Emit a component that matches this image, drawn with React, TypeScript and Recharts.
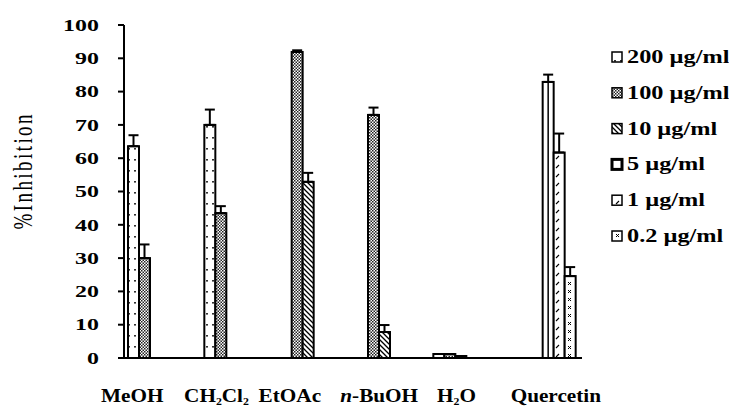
import { BarChart, Bar, XAxis, YAxis, ErrorBar } from "recharts";

const CATEGORIES = ["MeOH", "CH2Cl2", "EtOAc", "n-BuOH", "H2O", "Quercetin"];
const SERIES_NAMES = ["200 µg/ml", "100 µg/ml", "10 µg/ml", "5 µg/ml", "1 µg/ml", "0.2 µg/ml"];
const Y_TICKS = [0, 10, 20, 30, 40, 50, 60, 70, 80, 90, 100];

// % inhibition per concentration (null = not tested)
const V200 = [63.6, 70.0, null, null, 1.2, null];
const V100 = [30.0, 43.5, 91.9, 73.0, 1.2, null];
const V10 = [null, null, 52.9, 7.8, 0.6, null];
const V5 = [null, null, null, null, null, 82.9];
const V1 = [null, null, null, null, null, 61.7];
const V02 = [null, null, null, null, null, 24.6];

// upper error (SD)
const E200 = [3.3, 4.6, null, null, null, null];
const E100 = [4.1, 2.1, 0.5, 2.2, null, null];
const E10 = [null, null, 2.7, 2.1, null, null];
const E5 = [null, null, null, null, null, 2.2];
const E1 = [null, null, null, null, null, 5.7];
const E02 = [null, null, null, null, null, 2.7];

const VALUES = [V200, V100, V10, V5, V1, V02];
const ERRORS = [E200, E100, E10, E5, E1, E02];
const KEYS = ["s200", "s100", "s10", "s5", "s1", "s02"];

const data = CATEGORIES.map((name, i) => {
  const row: any = { name };
  KEYS.forEach((k, s) => {
    row[k] = VALUES[s][i];
    const e = ERRORS[s][i];
    row[k + "e"] = e == null ? undefined : [0, e];
  });
  return row;
});

const FONT = "'Liberation Serif', 'Times New Roman', serif";
const LABEL_NUDGE = [-30, -22, -25, -12, -11, 12];

const makeShape = (key: string) => (props: any) => {
  const { x, y, width, height } = props;
  if (!height || height <= 0) return null;
  return (
    <g>
      <rect x={x} y={y} width={width} height={height} fill={`url(#p${key})`} stroke="#000" strokeWidth={2} />
      {key === "s5" && (
        <line x1={x + width / 2} x2={x + width / 2} y1={y} y2={y + height} stroke="#000" strokeWidth={1.5} />
      )}
    </g>
  );
};

const renderLabel = (label: string) => {
  if (label.startsWith("n-")) {
    return [
      <tspan key="n" fontStyle="italic">n</tspan>,
      <tspan key="r">{label.slice(1)}</tspan>,
    ];
  }
  const parts = label.split(/(\d)/).filter((p) => p !== "");
  return parts.map((p, i) =>
    /\d/.test(p) ? (
      <tspan key={i} dy={3} fontSize={10}>{p}</tspan>
    ) : (
      <tspan key={i} dy={i > 0 ? -3 : 0}>{p}</tspan>
    )
  );
};

const XTick = (props: any) => {
  const { x, y, payload } = props;
  const idx = CATEGORIES.indexOf(payload.value);
  return (
    <g transform={`translate(${x + (LABEL_NUDGE[idx] || 0)},${y + 36})`}>
      <text transform="scale(1.18,1)" textAnchor="middle" fontWeight="bold" fontSize={18} fontFamily={FONT} fill="#000">
        {renderLabel(payload.value)}
      </text>
    </g>
  );
};

const YTick = (props: any) => {
  const { x, y, payload } = props;
  return (
    <g transform={`translate(${x},${y})`}>
      <text transform="scale(1.45,1)" textAnchor="end" dy="0.35em" fontWeight="bold" fontSize={16.5} fontFamily={FONT} fill="#000">
        {payload.value}
      </text>
    </g>
  );
};

const Patterns = () => (
  <svg width={0} height={0} style={{ position: "absolute" }}>
    <defs>
      <pattern id="ps200" width="6" height="11" patternUnits="userSpaceOnUse">
        <rect width="6" height="11" fill="#fff" />
        <rect x="2.2" y="5" width="1.6" height="1.6" fill="#000" />
      </pattern>
      <pattern id="ps100" width="3" height="3" patternUnits="userSpaceOnUse">
        <rect width="3" height="3" fill="#fff" />
        <rect x="0" y="0" width="1.5" height="1.5" fill="#222" />
        <rect x="1.5" y="1.5" width="1.5" height="1.5" fill="#222" />
      </pattern>
      <pattern id="ps10" width="5" height="5" patternUnits="userSpaceOnUse">
        <rect width="5" height="5" fill="#fff" />
        <path d="M0,0 L5,5 M-1,4 L1,6 M4,-1 L6,1" stroke="#000" strokeWidth="1.3" />
      </pattern>
      <pattern id="ps5" width="4" height="4" patternUnits="userSpaceOnUse">
        <rect width="4" height="4" fill="#fff" />
      </pattern>
      <pattern id="ps1" width="12" height="9" patternUnits="userSpaceOnUse">
        <rect width="12" height="9" fill="#fff" />
        <path d="M4,6 L7,3" stroke="#000" strokeWidth="1.1" />
      </pattern>
      <pattern id="ps02" width="12" height="8" patternUnits="userSpaceOnUse">
        <rect width="12" height="8" fill="#fff" />
        <path d="M4,2 L7,5 M7,2 L4,5" stroke="#000" strokeWidth="1" />
      </pattern>
    </defs>
  </svg>
);

const Overlay = () => (
  <svg width={729} height={408} style={{ position: "absolute", left: 0, top: 0, pointerEvents: "none" }}>
    <text
      transform="translate(32,172) scale(1.45,1) rotate(-90)"
      textAnchor="middle"
      fontSize={19}
      fontFamily={FONT}
      fill="#000"
      textLength={115}
      lengthAdjust="spacing"
    >
      %Inhibition
    </text>
    {SERIES_NAMES.map((n, i) => {
      const cy = 57 + i * 35.8;
      return (
        <g key={n}>
          <rect
            x={612}
            y={cy - 5}
            width={10}
            height={10}
            fill={`url(#p${KEYS[i]})`}
            stroke="#000"
            strokeWidth={KEYS[i] === "s5" ? 3 : 1.5}
          />
          <g transform={`translate(627,${cy + 6})`}>
            <text transform="scale(1.35,1)" fontWeight="bold" fontSize={18} fontFamily={FONT} fill="#000">
              {n}
            </text>
          </g>
        </g>
      );
    })}
  </svg>
);

export default function App() {
  return (
    <div style={{ position: "absolute", left: 0, top: 0, width: 729, height: 408, background: "#fff" }}>
      <Patterns />
      <BarChart
        width={729}
        height={408}
        data={data}
        margin={{ top: 25, right: 147, bottom: 10, left: 60 }}
        barCategoryGap={4}
        barGap={0}
      >
        <XAxis
          dataKey="name"
          height={40}
          tickLine={false}
          axisLine={{ stroke: "#000", strokeWidth: 2 }}
          tick={<XTick />}
          interval={0}
        />
        <YAxis
          width={64}
          domain={[0, 100]}
          ticks={Y_TICKS}
          interval={0}
          tickSize={6}
          tickMargin={19}
          tickLine={{ stroke: "#000", strokeWidth: 2 }}
          axisLine={{ stroke: "#000", strokeWidth: 2 }}
          tick={<YTick />}
        />
        {KEYS.map((k, i) => (
          <Bar key={k} dataKey={k} name={SERIES_NAMES[i]} shape={makeShape(k)} isAnimationActive={false}>
            <ErrorBar dataKey={k + "e"} width={5} strokeWidth={2} stroke="#000" direction="y" />
          </Bar>
        ))}
      </BarChart>
      <Overlay />
    </div>
  );
}
